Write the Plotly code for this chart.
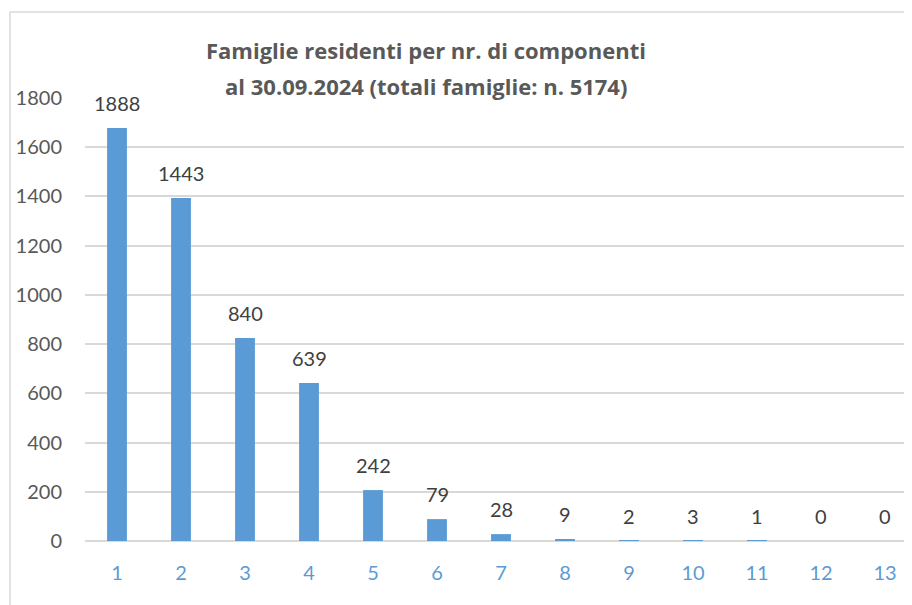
import plotly.graph_objects as go

categories = [str(i) for i in range(1, 14)]
bar_values = [1678, 1394, 825, 642, 207, 89, 28, 7, 2, 0.6, 0.3, 0, 0]
label_texts = ["1888", "1443", "840", "639", "242", "79", "28", "9", "2", "3", "1", "0", "0"]
y_ticks = [0, 200, 400, 600, 800, 1000, 1200, 1400, 1600, 1800]
title_line1 = "Famiglie residenti per nr. di componenti"
title_line2 = "al 30.09.2024 (totali famiglie: n. 5174)"

FONT = "Lato"
TFONT = "Open Sans"
BLUE = "#5B9BD5"

# page has an 8px body offset; plot area target: x 85..(920), y 98..541
PW = 835.0
PH = 443.0

fig = go.Figure()
fig.add_trace(go.Bar(
    x=list(range(1, 14)), y=bar_values,
    marker=dict(color=BLUE, line=dict(width=0)),
    width=0.31, hoverinfo="skip",
))

for i, (v, t) in enumerate(zip(bar_values, label_texts)):
    fig.add_annotation(x=i + 1, y=v, text=t, showarrow=False,
                       xref="x", yref="y", yanchor="middle", yshift=25,
                       font=dict(family=FONT, size=20, color="#404040"))

fig.add_annotation(x=(426 - 85) / PW, y=(541 - 50) / PH, xref="paper", yref="paper",
                   text="<b>" + title_line1 + "</b>", showarrow=False,
                   xanchor="center", yanchor="middle",
                   font=dict(family=TFONT, size=22, color="#595959"))
fig.add_annotation(x=(426 - 85) / PW, y=(541 - 86) / PH, xref="paper", yref="paper",
                   text="<b>" + title_line2 + "</b>", showarrow=False,
                   xanchor="center", yanchor="middle",
                   font=dict(family=TFONT, size=22, color="#595959"))

# outer chart border
fig.add_shape(type="rect", xref="paper", yref="paper",
              x0=(10 - 85) / PW, x1=1.05, y0=-0.25, y1=(541 - 12) / PH,
              line=dict(color="#D9D9D9", width=1.5), layer="below")

fig.update_layout(
    width=912, height=605,
    margin=dict(l=77, r=0, t=90, b=72),
    paper_bgcolor="white", plot_bgcolor="white",
    showlegend=False,
    xaxis=dict(
        range=[0.5, 0.5 + 835 / 64], tickmode="array",
        tickvals=list(range(1, 14)), ticktext=categories,
        showgrid=False, zeroline=False, showline=False, ticks="",
        tickfont=dict(family=FONT, size=20, color=BLUE),
        ticklabelstandoff=18,
    ),
    yaxis=dict(
        range=[0, 1800], tickmode="array", tickvals=y_ticks,
        showgrid=True, gridcolor="#D9D9D9", gridwidth=1.5,
        zeroline=True, zerolinecolor="#D9D9D9", zerolinewidth=1.5,
        showline=False, ticks="",
        tickfont=dict(family=FONT, size=20, color="#595959"),
        ticklabelstandoff=22,
    ),
)

fig.write_html("out.html")
